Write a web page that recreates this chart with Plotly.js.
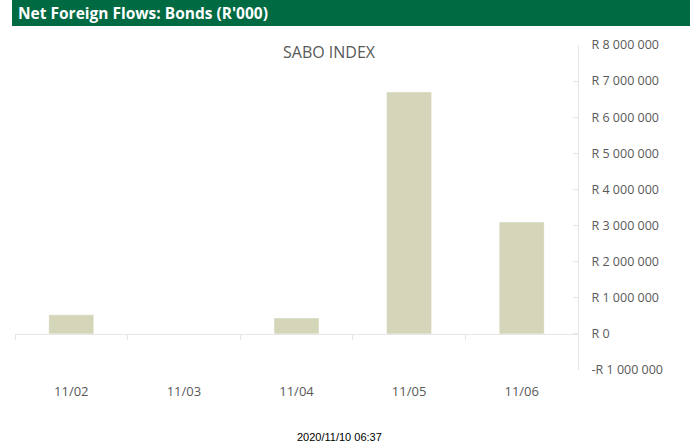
<!DOCTYPE html>
<html>
<head>
<meta charset="utf-8">
<script src="https://cdn.plot.ly/plotly-3.0.1.min.js"></script>
<style>html,body{margin:0;padding:0;background:#fff;}#chart{width:690px;height:448px;}</style>
</head>
<body>
<div id="chart"></div>
<script>
const categories = ["11/02", "11/03", "11/04", "11/05", "11/06"];
const flows = [530000, -20000, 440000, 6700000, 3100000];
const yTickVals = [-1000000, 0, 1000000, 2000000, 3000000, 4000000, 5000000, 6000000, 7000000, 8000000];
const yTickText = ["-R 1 000 000", "R 0", "R 1 000 000", "R 2 000 000", "R 3 000 000", "R 4 000 000", "R 5 000 000", "R 6 000 000", "R 7 000 000", "R 8 000 000"];
const headerText = "Net Foreign Flows: Bonds (R'000)";
const chartTitle = "SABO INDEX";
const stampText = "2020/11/10 06:37";

const trace = {
  type: "bar",
  x: categories,
  y: flows,
  marker: {color: "#d4d5b9", line: {color: "#ffffff", width: 0.5}},
  hoverinfo: "x+y",
  xaxis: "x",
  yaxis: "y"
};
const axisTrace = {
  type: "scatter", mode: "markers", x: categories, y: flows.map(() => null),
  xaxis: "x2", yaxis: "y", showlegend: false, hoverinfo: "skip"
};

const layout = {
  width: 690, height: 448,
  margin: {l: 15, r: 112, t: 45, b: 78},
  paper_bgcolor: "#ffffff", plot_bgcolor: "#ffffff",
  showlegend: false,
  bargap: 0.6,
  font: {family: "Open Sans, sans-serif", color: "#595959"},
  xaxis: {
    type: "category", showgrid: false, zeroline: false, showline: false,
    ticks: "", tickfont: {size: 13, color: "#595959", family: "Open Sans, sans-serif"},
    ticklabelstandoff: 12, fixedrange: true
  },
  xaxis2: {
    type: "category", overlaying: "x", matches: "x", anchor: "free", position: 1/9,
    showline: true, linecolor: "#e6e6e6", linewidth: 1,
    ticks: "outside", tickson: "boundaries", ticklen: 5, tickcolor: "#e6e6e6",
    showticklabels: false, showgrid: false, zeroline: false
  },
  yaxis: {
    side: "right", range: [-1000000, 8000000],
    tickvals: yTickVals, ticktext: yTickText,
    showgrid: false, zeroline: false,
    showline: true, linecolor: "#e6e6e6", linewidth: 1,
    ticks: "inside", ticklen: 5, tickcolor: "#e6e6e6",
    tickfont: {size: 12.5, color: "#595959", family: "Open Sans, sans-serif"},
    ticklabelstandoff: 10, fixedrange: true
  },
  shapes: [{
    type: "rect", xref: "paper", yref: "paper",
    x0: -0.0053, x1: 1.2, y0: 1.0585, y1: 1.2,
    fillcolor: "#006a43", line: {width: 0}, layer: "below"
  }],
  annotations: [
    {text: "<b>" + headerText + "</b>", xref: "paper", yref: "paper", x: 0.0018, y: 1.098,
     xanchor: "left", yanchor: "middle", showarrow: false,
     font: {size: 15.5, color: "#ffffff", family: "Open Sans, sans-serif"}},
    {text: chartTitle, xref: "paper", yref: "paper", x: 0.5595, y: 0.98,
     xanchor: "center", yanchor: "middle", showarrow: false,
     font: {size: 16, color: "#595959", family: "Open Sans, sans-serif"}},
    {text: stampText, xref: "paper", yref: "paper", x: 0.577, y: -0.206,
     xanchor: "center", yanchor: "middle", showarrow: false,
     font: {size: 11, color: "#000000", family: "Liberation Sans, Arial, sans-serif"}}
  ]
};

Plotly.newPlot("chart", [trace, axisTrace], layout, {displayModeBar: false, staticPlot: true});
</script>
</body>
</html>
